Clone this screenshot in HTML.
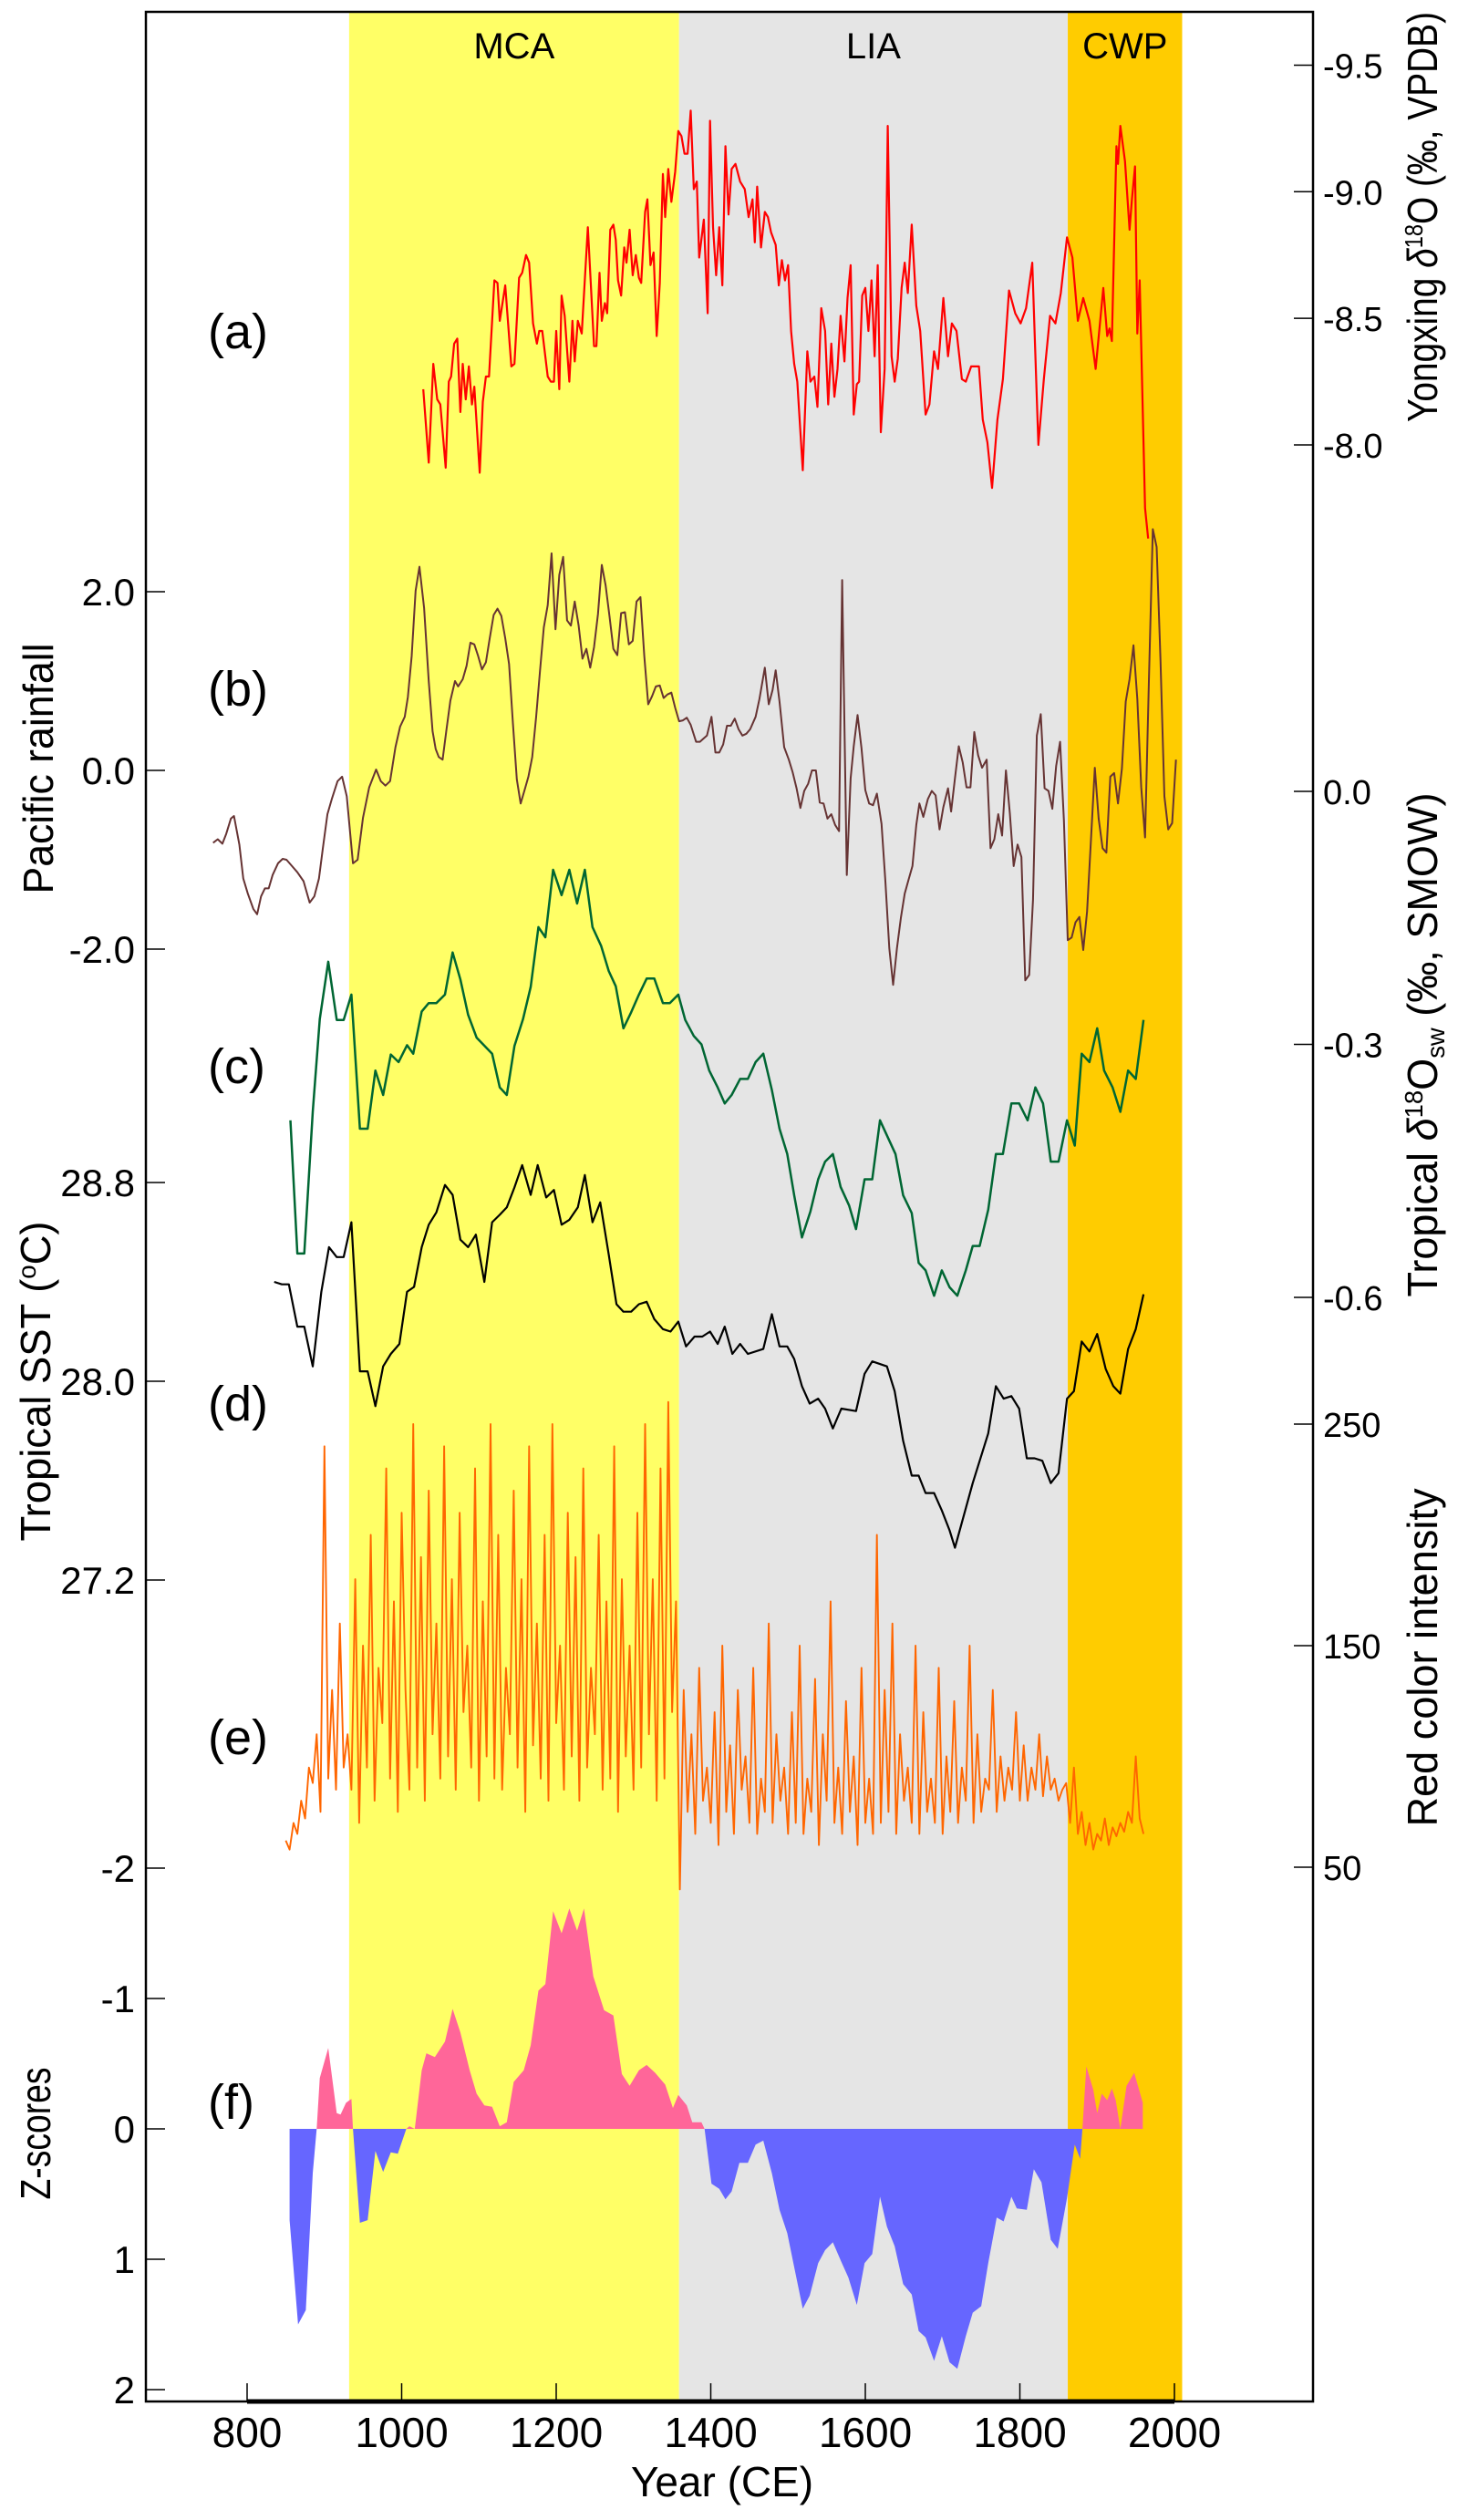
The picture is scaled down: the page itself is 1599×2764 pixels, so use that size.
<!DOCTYPE html>
<html><head><meta charset="utf-8"><style>
html,body{margin:0;padding:0;background:#fff;}
svg{display:block;font-family:"Liberation Sans",Arial,sans-serif;}
.tkl{font-size:42px;fill:#000;}
.tkr{font-size:38px;fill:#000;}
.ttl{font-family:"Liberation Sans Narrow","Liberation Sans",sans-serif;font-size:46px;fill:#000;}
</style></head><body>
<svg id="chart" width="1599" height="2764" viewBox="0 0 1599 2764" xmlns="http://www.w3.org/2000/svg">
<g id="bands"></g>
<g id="series"></g>
<g id="axes"></g>
</svg>
<script>
// ---- data ----
const periodNames=["MCA","LIA","CWP"];
const periodStart=[932,1359,1862];
const periodEnd=[1359,1862,2010];
const xTicks=[800,1000,1200,1400,1600,1800,2000];
const ticksA=[-9.5,-9.0,-8.5,-8.0];
const ticksB=[2.0,0.0,-2.0];
const ticksC=[0.0,-0.3,-0.6];
const ticksD=[28.8,28.0,27.2];
const ticksE=[250,150,50];
const ticksF=[-2,-1,0,1,2];

const yearsA=[1028,1035,1041,1046,1050,1057,1061,1064,1068,1072,1076,1079,1083,1087,1091,1094,1101,1105,1109,1113,1120,1124,1127,1134,1142,1146,1152,1156,1161,1165,1170,1175,1178,1182,1189,1193,1197,1200,1204,1207,1211,1217,1221,1224,1228,1233,1241,1249,1252,1256,1259,1263,1266,1270,1274,1277,1280,1284,1288,1291,1295,1299,1303,1307,1310,1315,1318,1322,1326,1330,1334,1338,1341,1345,1349,1354,1358,1362,1366,1370,1374,1378,1382,1385,1391,1396,1399,1403,1407,1411,1415,1419,1423,1427,1432,1438,1444,1449,1454,1457,1460,1465,1470,1474,1478,1484,1488,1492,1496,1500,1504,1508,1512,1519,1525,1529,1534,1538,1543,1548,1552,1556,1560,1564,1568,1573,1577,1581,1585,1589,1592,1596,1600,1604,1608,1612,1616,1620,1625,1629,1634,1638,1642,1647,1651,1655,1660,1666,1671,1678,1683,1689,1694,1701,1707,1712,1718,1725,1730,1737,1747,1752,1758,1764,1771,1778,1786,1794,1801,1808,1816,1824,1831,1839,1846,1853,1861,1868,1875,1882,1890,1898,1908,1913,1916,1919,1925,1927,1930,1936,1942,1945,1949,1952,1955,1962,1966];
const valuesA=[-8.22,-7.93,-8.32,-8.18,-8.16,-7.91,-8.25,-8.27,-8.40,-8.42,-8.13,-8.32,-8.18,-8.31,-8.16,-8.23,-7.89,-8.17,-8.27,-8.27,-8.65,-8.64,-8.49,-8.63,-8.31,-8.32,-8.66,-8.68,-8.75,-8.72,-8.48,-8.40,-8.45,-8.45,-8.27,-8.25,-8.25,-8.45,-8.22,-8.59,-8.51,-8.25,-8.49,-8.33,-8.49,-8.44,-8.86,-8.39,-8.39,-8.68,-8.49,-8.56,-8.52,-8.85,-8.87,-8.81,-8.65,-8.59,-8.78,-8.72,-8.85,-8.67,-8.75,-8.66,-8.64,-8.92,-8.97,-8.71,-8.76,-8.43,-8.64,-9.07,-8.90,-9.09,-8.96,-9.08,-9.24,-9.22,-9.15,-9.15,-9.32,-9.01,-9.04,-8.74,-8.89,-8.52,-9.28,-8.86,-8.67,-8.86,-8.63,-9.18,-8.91,-9.09,-9.11,-9.04,-9.01,-8.90,-8.97,-8.80,-9.02,-8.78,-8.92,-8.90,-8.84,-8.79,-8.63,-8.73,-8.65,-8.71,-8.45,-8.32,-8.25,-7.90,-8.37,-8.25,-8.27,-8.15,-8.54,-8.45,-8.16,-8.40,-8.19,-8.30,-8.51,-8.33,-8.58,-8.71,-8.12,-8.24,-8.25,-8.59,-8.62,-8.45,-8.65,-8.35,-8.71,-8.05,-8.30,-9.26,-8.35,-8.25,-8.34,-8.62,-8.72,-8.60,-8.87,-8.55,-8.45,-8.12,-8.16,-8.37,-8.30,-8.58,-8.35,-8.48,-8.45,-8.26,-8.25,-8.31,-8.31,-8.10,-8.01,-7.83,-8.10,-8.26,-8.61,-8.52,-8.48,-8.54,-8.72,-8.00,-8.26,-8.51,-8.48,-8.60,-8.82,-8.74,-8.49,-8.58,-8.49,-8.30,-8.62,-8.43,-8.46,-8.41,-9.18,-9.11,-9.26,-9.12,-8.85,-8.97,-9.10,-8.44,-8.65,-7.75,-7.63];

const yearsB=[756,762,768,773,779,783,790,795,801,808,813,818,823,828,833,840,846,851,858,865,873,881,887,893,898,904,910,917,923,929,937,943,950,958,967,973,979,985,992,998,1004,1008,1013,1018,1023,1029,1035,1040,1044,1048,1053,1058,1063,1069,1073,1079,1084,1089,1094,1099,1104,1109,1114,1119,1124,1129,1134,1139,1144,1149,1154,1159,1164,1169,1174,1179,1184,1189,1194,1199,1204,1209,1214,1219,1224,1229,1234,1239,1244,1249,1254,1259,1264,1269,1274,1279,1284,1289,1294,1299,1304,1309,1314,1319,1324,1329,1334,1339,1344,1349,1354,1359,1364,1369,1374,1381,1386,1391,1395,1401,1406,1411,1416,1421,1426,1431,1436,1441,1446,1451,1458,1463,1470,1475,1480,1484,1489,1495,1501,1506,1511,1516,1521,1526,1531,1536,1541,1546,1551,1556,1561,1566,1570,1576,1581,1585,1590,1595,1600,1605,1610,1615,1621,1626,1631,1636,1641,1646,1651,1656,1661,1666,1670,1675,1681,1686,1691,1696,1701,1707,1711,1716,1721,1726,1731,1736,1741,1746,1751,1757,1762,1767,1772,1777,1782,1787,1792,1797,1802,1807,1812,1817,1822,1827,1832,1837,1842,1847,1852,1857,1862,1867,1872,1877,1882,1887,1892,1897,1902,1907,1912,1917,1922,1927,1932,1937,1942,1947,1952,1957,1962,1967,1972,1977,1982,1987,1992,1997,2002];
const valuesB=[-0.81,-0.77,-0.82,-0.71,-0.54,-0.51,-0.83,-1.21,-1.38,-1.55,-1.61,-1.41,-1.32,-1.32,-1.17,-1.04,-0.99,-1.00,-1.07,-1.14,-1.24,-1.48,-1.41,-1.21,-0.87,-0.49,-0.31,-0.12,-0.07,-0.29,-1.04,-1.00,-0.53,-0.19,0.01,-0.12,-0.17,-0.12,0.26,0.49,0.60,0.82,1.28,2.01,2.28,1.82,1.00,0.44,0.24,0.15,0.12,0.46,0.78,1.00,0.94,1.02,1.17,1.43,1.41,1.28,1.13,1.21,1.48,1.74,1.81,1.73,1.48,1.19,0.53,-0.10,-0.37,-0.22,-0.07,0.15,0.60,1.11,1.60,1.85,2.43,1.58,2.19,2.39,1.68,1.62,1.89,1.62,1.25,1.36,1.15,1.38,1.75,2.30,2.07,1.72,1.36,1.29,1.76,1.77,1.41,1.45,1.89,1.94,1.28,0.74,0.83,0.94,0.95,0.81,0.85,0.87,0.70,0.55,0.56,0.59,0.51,0.32,0.32,0.36,0.39,0.60,0.20,0.20,0.29,0.50,0.50,0.58,0.46,0.39,0.41,0.46,0.60,0.80,1.15,0.74,0.90,1.12,0.77,0.26,0.12,-0.02,-0.20,-0.42,-0.23,-0.15,0.00,0.00,-0.36,-0.37,-0.54,-0.49,-0.61,-0.68,2.13,-1.17,-0.09,0.27,0.62,0.25,-0.22,-0.37,-0.39,-0.26,-0.60,-1.24,-1.99,-2.40,-1.99,-1.65,-1.38,-1.22,-1.07,-0.61,-0.37,-0.52,-0.32,-0.23,-0.28,-0.66,-0.41,-0.20,-0.46,-0.09,0.27,0.09,-0.19,-0.19,0.43,0.17,0.03,0.12,-0.87,-0.77,-0.49,-0.73,0.00,-0.48,-1.07,-0.83,-0.97,-2.35,-2.29,-1.45,0.39,0.63,-0.20,-0.23,-0.43,0.05,0.32,-0.56,-1.90,-1.87,-1.70,-1.64,-2.01,-1.58,-0.77,0.03,-0.54,-0.87,-0.92,-0.07,-0.03,-0.37,0.02,0.77,1.02,1.40,0.80,-0.19,-0.75,1.00,2.70,2.50,1.24,-0.29,-0.66,-0.59,0.12];

const yearsC=[856,865,874,885,894,905,916,925,935,946,956,966,976,986,996,1007,1015,1026,1035,1045,1056,1066,1076,1086,1097,1117,1127,1136,1146,1157,1167,1177,1186,1196,1207,1217,1227,1237,1247,1258,1268,1277,1287,1297,1307,1317,1327,1338,1347,1358,1367,1378,1388,1398,1409,1418,1427,1438,1448,1458,1468,1479,1489,1499,1508,1518,1529,1539,1548,1558,1568,1579,1588,1599,1609,1619,1629,1639,1649,1660,1669,1678,1689,1699,1709,1719,1730,1739,1748,1759,1769,1778,1789,1799,1810,1820,1830,1840,1850,1861,1871,1880,1890,1900,1909,1920,1930,1940,1950,1960];
const valuesC=[-0.390,-0.548,-0.548,-0.380,-0.270,-0.202,-0.271,-0.271,-0.241,-0.400,-0.400,-0.331,-0.360,-0.312,-0.321,-0.301,-0.311,-0.261,-0.251,-0.251,-0.241,-0.191,-0.223,-0.265,-0.292,-0.311,-0.351,-0.360,-0.302,-0.270,-0.232,-0.161,-0.173,-0.093,-0.123,-0.093,-0.133,-0.093,-0.161,-0.183,-0.213,-0.231,-0.281,-0.262,-0.241,-0.222,-0.222,-0.251,-0.251,-0.241,-0.271,-0.290,-0.300,-0.331,-0.351,-0.370,-0.360,-0.341,-0.341,-0.321,-0.311,-0.354,-0.400,-0.430,-0.479,-0.529,-0.498,-0.460,-0.439,-0.430,-0.469,-0.491,-0.519,-0.460,-0.460,-0.390,-0.410,-0.430,-0.479,-0.500,-0.559,-0.568,-0.598,-0.568,-0.588,-0.598,-0.568,-0.539,-0.539,-0.496,-0.430,-0.430,-0.370,-0.370,-0.390,-0.351,-0.370,-0.439,-0.439,-0.390,-0.420,-0.311,-0.321,-0.281,-0.331,-0.351,-0.380,-0.331,-0.341,-0.271];

const yearsD=[835,845,854,865,874,885,896,906,916,925,935,946,956,966,976,986,997,1007,1016,1026,1035,1045,1056,1066,1076,1086,1096,1107,1117,1127,1136,1146,1156,1167,1176,1187,1197,1207,1217,1228,1237,1247,1257,1268,1278,1287,1297,1307,1317,1327,1338,1348,1358,1368,1379,1389,1399,1409,1418,1428,1438,1448,1468,1479,1489,1499,1508,1518,1528,1539,1548,1558,1569,1588,1599,1609,1628,1638,1649,1660,1669,1678,1689,1699,1709,1716,1739,1759,1769,1779,1789,1799,1809,1819,1829,1840,1850,1861,1870,1880,1890,1900,1911,1921,1930,1940,1950,1960];
const valuesD=[28.40,28.39,28.39,28.22,28.22,28.06,28.36,28.54,28.50,28.50,28.64,28.04,28.04,27.90,28.06,28.11,28.15,28.36,28.38,28.54,28.63,28.68,28.79,28.75,28.57,28.54,28.59,28.40,28.64,28.67,28.70,28.78,28.87,28.75,28.87,28.74,28.77,28.63,28.65,28.70,28.83,28.64,28.72,28.51,28.31,28.28,28.28,28.31,28.32,28.25,28.21,28.20,28.24,28.14,28.18,28.18,28.20,28.15,28.22,28.11,28.15,28.11,28.13,28.27,28.14,28.14,28.09,27.98,27.91,27.93,27.89,27.81,27.89,27.88,28.03,28.08,28.06,27.96,27.76,27.62,27.62,27.55,27.55,27.48,27.40,27.33,27.59,27.79,27.98,27.93,27.94,27.89,27.69,27.69,27.68,27.59,27.63,27.93,27.96,28.16,28.12,28.19,28.05,27.98,27.95,28.13,28.21,28.35];

const startYearE=850;
const stepE=5;
const valuesE=[62,58,70,65,80,72,95,88,110,75,240,90,130,85,160,95,
110,85,180,70,150,95,200,80,140,115,230,90,170,75,210,
130,85,250,95,190,80,220,110,160,90,240,100,180,85,210,120,150,95,230,80,
170,100,250,90,200,85,140,110,220,95,180,75,240,105,160,90,200,80,250,115,
150,85,210,100,190,80,230,95,140,110,200,85,170,90,240,75,180,100,150,85,
210,95,250,110,180,80,230,90,260,120,170,40,
130,75,110,65,140,80,95,70,120,60,150,75,105,65,130,85,100,70,140,65,90,75,160,70,110,80,95,65,
120,70,150,65,90,75,135,60,110,80,170,70,95,65,125,75,100,60,140,70,
90,65,200,70,130,75,160,65,110,80,95,70,150,65,120,75,90,70,140,65,
100,75,125,70,95,80,150,70,110,75,90,85,130,75,100,80,95,85,120,80,
105,80,95,85,110,82,100,85,90,80,85,88,
70,95,65,75,60,70,58,65,62,72,60,68,64,70,66,75,70,100,72,65];

const yearsF=[855,855,866,876,885,890,894,905,916,921,928,935,937,946,956,966,976,986,995,1006,1010,1017,1026,1032,1043,1056,1066,1076,1088,1097,1107,1117,1127,1136,1145,1158,1167,1177,1186,1196,1207,1217,1227,1236,1248,1262,1274,1285,1295,1307,1317,1328,1341,1351,1358,1369,1376,1388,1392,1401,1411,1419,1427,1437,1448,1458,1468,1479,1489,1499,1508,1519,1528,1539,1548,1558,1569,1578,1589,1599,1609,1619,1628,1638,1649,1660,1669,1678,1689,1699,1709,1719,1730,1739,1750,1759,1770,1779,1789,1796,1809,1818,1828,1840,1849,1861,1871,1878,1881,1886,1895,1900,1906,1913,1919,1924,1930,1938,1948,1959,1959];
const valuesF=[0,0.70,1.50,1.39,0.34,0,-0.39,-0.62,-0.12,-0.11,-0.20,-0.23,0,0.72,0.70,0.17,0.33,0.18,0.19,0,-0.02,0,-0.45,-0.58,-0.55,-0.67,-0.92,-0.74,-0.45,-0.27,-0.18,-0.17,-0.02,-0.05,-0.36,-0.45,-0.64,-1.06,-1.11,-1.67,-1.50,-1.69,-1.52,-1.69,-1.17,-0.91,-0.87,-0.42,-0.33,-0.45,-0.49,-0.43,-0.34,-0.16,-0.26,-0.18,-0.05,-0.05,0,0.42,0.46,0.54,0.48,0.26,0.26,0.12,0.09,0.34,0.62,0.80,1.06,1.38,1.28,1.03,0.93,0.87,1.02,1.14,1.35,1.03,0.96,0.52,0.75,0.90,1.19,1.27,1.55,1.60,1.78,1.59,1.79,1.84,1.59,1.41,1.36,1.03,0.68,0.71,0.52,0.61,0.62,0.31,0.41,0.85,0.92,0.53,0.12,0.23,0,-0.48,-0.30,-0.12,-0.27,-0.22,-0.31,-0.22,0,-0.33,-0.43,-0.20,0];

// ---- scales ----
const NS="http://www.w3.org/2000/svg";
const FL=160,FR=1440,FT=13,FB=2634;
function xS(yr){return 271+(yr-800)*0.8475;}
function yA(v){return 488+(v+8)*277.7;}
function yB(v){return 845-v*98;}
function yC(v){return 868-v*925;}
function yD(v){return 1515-(v-28)*272.5;}
function yE(v){return 2048-(v-50)*2.43;}
function yF(v){return 2335+v*143;}
function mk(tag,attrs,parent){const e=document.createElementNS(NS,tag);for(const k in attrs)e.setAttribute(k,attrs[k]);parent.appendChild(e);return e;}
const bands=document.getElementById('bands');
const series=document.getElementById('series');
const axes=document.getElementById('axes');
const bandColors=["#ffff66","#e5e5e5","#ffcc00"];
for(let i=0;i<periodNames.length;i++){
  const r=mk('rect',{x:xS(periodStart[i]),y:FT,width:xS(periodEnd[i])-xS(periodStart[i]),height:FB-FT,fill:bandColors[i]},bands);
  
  
  const t=mk('text',{x:(xS(periodStart[i])+xS(periodEnd[i]))/2,y:64,'text-anchor':'middle','font-size':'40'},bands);
  t.textContent=periodNames[i];
  
  
}
function line(years,vals,yf,color,w,name){
  let d='';for(let i=0;i<years.length;i++){d+=(i?'L':'M')+xS(years[i]).toFixed(1)+','+yf(vals[i]).toFixed(1);}
  const p=mk('path',{d:d,fill:'none',stroke:color,'stroke-width':w,'stroke-linejoin':'round'},series);
  
  
}
line(yearsA,valuesA,yA,'#ff0000',2.2,'series-a-yongxing-d18o');
line(yearsB,valuesB,yB,'#663333',2,'series-b-pacific-rainfall');
line(yearsC,valuesC,yC,'#006633',2.5,'series-c-tropical-d18osw');
line(yearsD,valuesD,yD,'#000000',2.2,'series-d-tropical-sst');
const yearsE=valuesE.map((v,i)=>startYearE+i*stepE);
line(yearsE,valuesE,yE,'#ff6600',1.9,'series-e-red-color-intensity');
// z-scores fill
const defs=mk('defs',{},series);
const cp1=mk('clipPath',{id:'above'},defs);mk('rect',{x:0,y:0,width:1599,height:yF(0)},cp1);
const cp2=mk('clipPath',{id:'below'},defs);mk('rect',{x:0,y:yF(0),width:1599,height:800},cp2);
let dF='M'+xS(yearsF[0])+','+yF(0);
for(let i=0;i<yearsF.length;i++)dF+='L'+xS(yearsF[i]).toFixed(1)+','+yF(valuesF[i]).toFixed(1);
dF+='L'+xS(yearsF[yearsF.length-1])+','+yF(0)+'Z';
const pPink=mk('path',{d:dF,fill:'#ff6699','clip-path':'url(#above)'},series);


const pBlue=mk('path',{d:dF,fill:'#6666ff','clip-path':'url(#below)'},series);


// frame
const fr=mk('rect',{x:FL,y:FT,width:FR-FL,height:FB-FT,fill:'none',stroke:'#000','stroke-width':2.5},axes);


const bl=mk('line',{x1:xS(800),x2:xS(2000),y1:FB,y2:FB,stroke:'#000','stroke-width':5},axes);


// x ticks
for(const t of xTicks){
  const l=mk('line',{x1:xS(t),x2:xS(t),y1:FB,y2:FB-20,stroke:'#000','stroke-width':1.5},axes);
  
  
  const tx=mk('text',{x:xS(t),y:2684,'text-anchor':'middle',class:'ttl'},axes);
  tx.textContent=t;
  
  
}
function leftTicks(ticks,yf,name,fmt){
  for(const t of ticks){
    const l=mk('line',{x1:FL,x2:FL+21,y1:yf(t),y2:yf(t),stroke:'#000','stroke-width':1.5},axes);
    
    
    const tx=mk('text',{x:148,y:yf(t)+15,'text-anchor':'end',class:'tkl'},axes);
    tx.textContent=fmt(t);
    
    
  }
}
function rightTicks(ticks,yf,name,fmt){
  for(const t of ticks){
    const l=mk('line',{x1:FR-21,x2:FR,y1:yf(t),y2:yf(t),stroke:'#000','stroke-width':1.5},axes);
    
    
    const tx=mk('text',{x:1451,y:yf(t)+14,'text-anchor':'start',class:'tkr'},axes);
    tx.textContent=fmt(t);
    
    
  }
}
const f1=v=>v.toFixed(1);
leftTicks(ticksB,yB,'rainfall',f1);
leftTicks(ticksD,yD,'sst',f1);
leftTicks(ticksF,yF,'zscore',v=>String(v));
rightTicks(ticksA,yA,'d18o',f1);
rightTicks(ticksC,yC,'d18osw',f1);
rightTicks(ticksE,yE,'red-intensity',v=>String(v));
// panel letters
const letters=["(a)","(b)","(c)","(d)","(e)","(f)"];
const letterY=[382,774,1188,1558,1924,2324];
for(let i=0;i<letters.length;i++){
  const t=mk('text',{x:228,y:letterY[i],'font-size':'54'},axes);
  t.textContent=letters[i];
  
  
}
</script>
<script>
(function(){
const NS="http://www.w3.org/2000/svg";
const axes=document.getElementById('axes');
function title(x,y,len,name,parts){
  const t=document.createElementNS(NS,'text');
  t.setAttribute('class','ttl');
  t.setAttribute('text-anchor','middle');
  t.setAttribute('transform','translate('+x+','+y+') rotate(-90)');
  t.setAttribute('textLength',len);
  t.setAttribute('lengthAdjust','spacingAndGlyphs');
  for(const p of parts){
    const s=document.createElementNS(NS,'tspan');
    if(p[1]==='sup'){s.setAttribute('font-size','28');s.setAttribute('dy','-16');}
    else if(p[1]==='sub'){s.setAttribute('font-size','28');s.setAttribute('dy','8');}
    else if(p[1]==='back'){s.setAttribute('dy','16');}
    else if(p[1]==='backsub'){s.setAttribute('dy','-8');}
    if(p[2])s.setAttribute('font-style','italic');
    s.textContent=p[0];t.appendChild(s);
  }
  
  
  axes.appendChild(t);
}
title(58,843,275,'y-axis-title-pacific-rainfall',[["Pacific rainfall"]]);
title(55,1515,351,'y-axis-title-tropical-sst',[["Tropical SST ("],["o","sup"],["C)","back"]]);
title(55,2340,145,'y-axis-title-z-scores',[["Z-scores"]]);
title(1576,238,450,'y-axis-title-yongxing-d18o',[["Yongxing "],["δ","",true],["18","sup"],["O (‰, VPDB)","back"]]);
title(1576,1146,553,'y-axis-title-tropical-d18osw',[["Tropical "],["δ","",true],["18","sup"],["O","back"],["sw","sub"],[" (‰, SMOW)","backsub"]]);
title(1576,1818,371,'y-axis-title-red-color-intensity',[["Red color intensity"]]);
const x=document.createElementNS(NS,'text');
x.setAttribute('x','792');x.setAttribute('y','2738');x.setAttribute('text-anchor','middle');
x.setAttribute('class','ttl');
x.textContent='Year (CE)';


axes.appendChild(x);
})();
</script>
</body></html>
